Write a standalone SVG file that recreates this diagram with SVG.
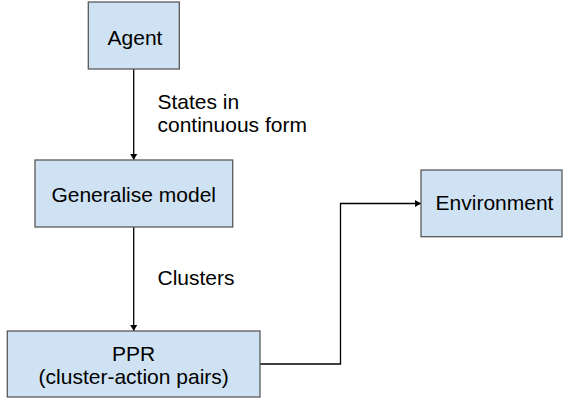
<svg xmlns="http://www.w3.org/2000/svg" width="563" height="400" viewBox="0 0 563 400">
<defs>
<style>
.box{fill:#cfe2f3;stroke:#595959;stroke-width:1.3}
.t{font-family:"Liberation Sans",Arial,sans-serif;font-size:21px;fill:#000}
.c{text-anchor:middle}
.ln{fill:none;stroke:#000;stroke-width:1.3}
</style>
<marker id="a" viewBox="0 0 6 8" refX="6" refY="4" markerWidth="6" markerHeight="8" markerUnits="userSpaceOnUse" orient="auto">
<path d="M0,0.5 L6,4 L0,7.5 z" fill="#000"/>
</marker>
</defs>
<g id="connectors">
<line class="ln" x1="133.7" y1="69" x2="133.7" y2="160" marker-end="url(#a)"/>
<line class="ln" x1="133.7" y1="227" x2="133.7" y2="331" marker-end="url(#a)"/>
<polyline class="ln" points="260,364 340.5,364 340.5,203.5 421,203.5" marker-end="url(#a)"/>
<text class="t" x="157.5" y="109">States in</text>
<text class="t" x="157.5" y="132">continuous form</text>
<text class="t" x="157.5" y="285">Clusters</text>
</g>
<g id="agent">
<rect class="box" x="88.3" y="2" width="91" height="67"/>
<text class="t c" x="135" y="44.5">Agent</text>
</g>
<g id="generalise">
<rect class="box" x="35" y="160" width="197.7" height="67"/>
<text class="t c" x="133.7" y="201.5">Generalise model</text>
</g>
<g id="ppr">
<rect class="box" x="7.3" y="331" width="252.7" height="66"/>
<text class="t c" x="133.7" y="361">PPR</text>
<text class="t c" x="133.7" y="384">(cluster-action pairs)</text>
</g>
<g id="environment">
<rect class="box" x="421" y="170" width="141" height="66.7"/>
<text class="t c" x="494.5" y="210">Environment</text>
</g>
</svg>
